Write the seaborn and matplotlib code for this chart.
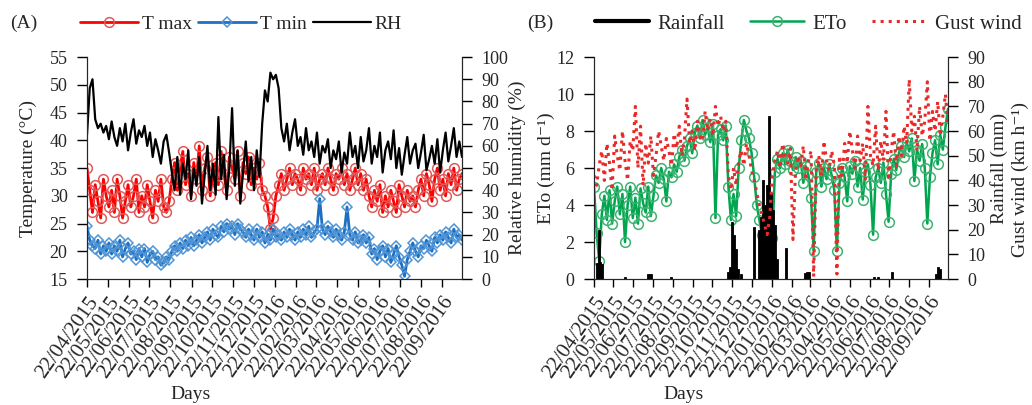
import numpy as np
import pandas as pd
import matplotlib
matplotlib.use('Agg')
import matplotlib.pyplot as plt
import matplotlib.dates as mdates
from matplotlib.lines import Line2D
import seaborn as sns

# Serie cada 4 dias desde 22/04/2015
tmax = [35, 31, 27, 32, 29, 26, 33, 30, 28, 31,
        27, 33, 30, 26, 29, 32, 28, 30, 33, 27,
        30, 28, 32, 29, 26, 31, 29, 33, 28, 27,
        29, 33, 36, 31, 35, 38, 32, 34, 30, 36,
        33, 39, 31, 35, 37, 30, 34, 36, 32, 38,
        34, 31, 37, 35, 33, 38, 30, 36, 34, 37,
        32, 35, 33, 36, 31, 30, 28, 24, 26, 30,
        32, 34, 31, 33, 35, 32, 34, 33, 31, 35,
        33, 34, 32, 35, 31, 33, 34, 32, 35, 33,
        31, 34, 33, 35, 32, 34, 31, 33, 35, 32,
        34, 31, 33, 30, 28, 31, 29, 32, 27, 30,
        28, 31, 29, 27, 32, 30, 28, 31, 29, 30,
        28, 31, 33, 30, 34, 32, 29, 33, 35, 31,
        33, 30, 34, 32, 35, 31, 33, 34]

tmin = [24.5, 22, 21, 20.5, 22, 19.5, 21, 20, 21.5, 19.5,
        21, 20, 22, 19, 20.5, 21.5, 19.5, 20, 18.5, 20.5,
        19, 20.5, 18, 19.5, 20, 18.5, 19, 17.5, 18, 19,
        18.5, 20, 21, 20, 21.5, 20.5, 22, 21, 22.5, 21,
        22, 23, 21.5, 22.5, 23.5, 22, 24, 23, 22.5, 24.5,
        23.5, 25, 24, 24.5, 23, 25, 24, 23.5, 22.5, 24,
        23, 22, 24, 22.5, 23.5, 21.5, 23, 22, 24, 22.5,
        23, 22, 23.5, 22.5, 24, 23, 22, 23.5, 22.5, 24,
        23, 24.5, 22.5, 23.5, 24, 29.5, 24, 23, 24.5, 23.5,
        22.5, 24, 23, 22, 23.5, 28, 23, 22, 23.5, 21.5,
        22, 23, 21.5, 22.5, 19.5, 20.5, 18.5, 20, 21, 19,
        20.5, 18, 19.5, 21, 19, 17.5, 15.5, 18.5, 20, 21.5,
        20, 19, 21, 20.5, 22, 21, 20, 22.5, 21.5, 23,
        22, 23.5, 22.5, 21.5, 24, 22.5, 23, 22]

rh = [65, 86, 90, 72, 68, 70, 66, 69, 63, 71,
      64, 60, 68, 62, 70, 58, 66, 72, 61, 67,
      64, 69, 60, 66, 55, 63, 58, 52, 62, 65,
      57, 48, 40, 55, 38, 52, 45, 58, 36, 50,
      42, 55, 34, 47, 60, 40, 52, 38, 73, 45,
      56, 36, 50, 77, 42, 58, 34, 48, 62, 44,
      55, 40, 58, 46, 70, 85, 80, 93, 90, 92,
      86, 68, 62, 70, 58, 66, 72, 60, 64, 56,
      68, 58, 62, 55, 66, 52, 60, 57, 63, 50,
      58, 54, 62, 48, 57, 52, 66, 55, 60, 50,
      64, 53, 58, 68, 52, 60, 55, 66, 48, 58,
      62, 54, 67, 50, 59, 47, 56, 64, 52, 58,
      61, 50, 57, 65, 49, 54, 60, 52, 63, 48,
      58, 66, 53, 60, 68, 55, 62, 55]

eto = [5.0, 2.5, 1.0, 3.5, 4.5, 3.2, 4.8, 3.0, 4.2, 5.0,
       3.5, 4.6, 2.0, 4.0, 5.0, 3.3, 4.4, 3.0, 4.9, 4.1,
       3.6, 5.0, 3.4, 4.5, 5.6, 5.2, 6.0, 5.4, 4.2, 5.8,
       5.5, 6.2, 5.8, 6.6, 7.0, 6.4, 7.2, 7.6, 6.8, 7.9,
       8.3, 7.6, 8.6, 7.8, 8.2, 7.4, 8.4, 3.3, 7.8, 8.1,
       7.5, 8.3, 5.0, 3.2, 4.6, 3.4, 6.0, 7.5, 8.6, 8.0,
       7.6, 6.8, 5.5, 4.0, 3.2, 2.4, 1.6, 0.8, 0.5, 2.2,
       5.8, 6.5, 6.0, 6.8, 6.2, 7.0, 6.4, 5.9, 6.6, 6.0,
       6.4, 5.2, 6.1, 5.6, 4.4, 1.5, 5.8, 6.3, 5.0, 6.0,
       5.4, 6.2, 5.6, 4.8, 1.5, 5.2, 6.0, 5.5, 4.2, 6.1,
       5.7, 6.4, 5.0, 6.0, 4.3, 5.8, 6.2, 5.1, 2.4, 5.5,
       6.0, 5.2, 6.3, 4.6, 3.1, 5.7, 6.5, 5.9, 6.8, 7.2,
       6.6, 7.4, 6.9, 7.6, 5.3, 7.0, 6.4, 7.3, 6.0, 3.0,
       5.5, 6.8, 7.5, 6.2, 7.8, 7.0, 8.2, 9.2]

gust = [42, 38, 46, 52, 40, 55, 47, 36, 58, 50,
        44, 60, 48, 40, 56, 52, 70, 45, 62, 38,
        55, 47, 58, 42, 50, 60, 54, 48, 57, 52,
        46, 59, 53, 62, 50, 57, 73, 55, 60, 52,
        64, 58, 56, 68, 60, 65, 58, 70, 62, 66,
        60, 64, 42, 36, 45, 38, 48, 52, 46, 55,
        50, 44, 40, 35, 30, 26, 22, 18, 25, 42,
        48, 52, 45, 55, 50, 47, 53, 16, 44, 50,
        46, 54, 40, 48, 52, 1, 45, 50, 42, 56,
        48, 44, 52, 46, 2, 50, 42, 55, 47, 60,
        52, 45, 58, 48, 55, 40, 70, 50, 46, 62,
        44, 56, 48, 68, 40, 52, 60, 46, 58, 50,
        62, 55, 81, 60, 66, 52, 70, 58, 64, 80,
        56, 68, 60, 72, 58, 66, 75, 62]

# Lluvia: solo dias con precipitacion
rain_dates = ['2015-04-27', '2015-04-30', '2015-05-02', '2015-05-04',
              '2015-06-09', '2015-07-14', '2015-07-17', '2015-07-20',
              '2015-08-19', '2015-11-16', '2015-11-19', '2015-11-22',
              '2015-11-25', '2015-11-28', '2015-12-01', '2015-12-06',
              '2015-12-26', '2016-01-03', '2016-01-06', '2016-01-09',
              '2016-01-12', '2016-01-15', '2016-01-18', '2016-01-21',
              '2016-01-24', '2016-01-27', '2016-01-30', '2016-02-13',
              '2016-03-13', '2016-03-17', '2016-03-20', '2016-06-29',
              '2016-07-05', '2016-07-27', '2016-10-02', '2016-10-05',
              '2016-10-08']
rain_mm = [6.5, 20, 7, 6,
           1, 2, 2, 2,
           1, 3, 5, 23,
           18, 12, 4, 2,
           21, 20, 25, 40,
           30, 38, 66, 35,
           28, 22, 8, 12.5,
           2.5, 3, 3, 1,
           1, 3, 2, 5,
           4]

fechas = pd.date_range('2015-04-22', periods=len(tmax), freq='4D')
fechas_lluvia = pd.to_datetime(rain_dates)

sns.set_style('ticks')
plt.rcParams['font.family'] = ['Liberation Serif', 'DejaVu Serif']
plt.rcParams['font.size'] = 12

fig = plt.figure(figsize=(10.32, 4.05), dpi=100)
axA = fig.add_axes([0.0843, 0.311, 0.3634, 0.548])
axB = fig.add_axes([0.5756, 0.311, 0.3430, 0.548])


def formato_eje_x(ax):
    ax.xaxis.set_major_locator(mdates.MonthLocator(bymonthday=22))
    ax.xaxis.set_major_formatter(mdates.DateFormatter('%d/%m/%Y'))
    ax.set_xlim(fechas[0], fechas[-1])
    plt.setp(ax.get_xticklabels(), rotation=55, ha='right',
             rotation_mode='anchor', fontsize=15)
    ax.tick_params(axis='x', direction='out', length=6, width=1, pad=4, color='black')


def formato_eje_y(ax):
    ax.spines['top'].set_visible(False)
    ax.tick_params(axis='y', direction='out', length=7, width=1, pad=7,
                   color='black', labelsize=13)


# ---------- Panel A ----------
sns.lineplot(x=fechas, y=tmax, ax=axA, color='red', lw=2.0, marker='o',
             markersize=7, markerfacecolor='none', markeredgecolor='#e05a5a',
             markeredgewidth=1.1, label='T max', legend=False)
sns.lineplot(x=fechas, y=tmin, ax=axA, color='#1f6fc0', lw=2.0, marker='D',
             markersize=5.5, markerfacecolor='none', markeredgecolor='#4f95d6',
             markeredgewidth=1.1, label='T min', legend=False)
axA.set_ylim(15, 55)
axA.set_yticks(range(15, 56, 5))
axA.set_ylabel('Temperature (°C)', fontsize=14, labelpad=9)
axA.set_xlabel('Days', fontsize=14)
axA.xaxis.set_label_coords(0.275, -0.48)

axA2 = axA.twinx()
sns.lineplot(x=fechas, y=rh, ax=axA2, color='black', lw=1.6, label='RH', legend=False)
axA2.set_ylim(0, 100)
axA2.set_yticks(range(0, 101, 10))
axA2.set_ylabel('Relative humidity (%)', fontsize=14, labelpad=0)

for a in (axA, axA2):
    formato_eje_y(a)
formato_eje_x(axA)

hA = [axA.lines[0], axA.lines[1], axA2.lines[0]]
axA2.legend(hA, ['T max', 'T min', 'RH'], loc='center left',
            bbox_to_anchor=(-0.04, 1.15), ncol=3, frameon=False,
            handlelength=3.0, handletextpad=0.2, columnspacing=0.3,
            fontsize=14, borderaxespad=0)
fig.text(10 / 1032, 1 - 23 / 405, '(A)', fontsize=14, va='center')

# ---------- Panel B ----------
sns.lineplot(x=fechas, y=eto, ax=axB, color='#00a550', lw=1.8, marker='o',
             markersize=7, markerfacecolor='none', markeredgecolor='#3cb371',
             markeredgewidth=1.1, label='ETo', legend=False)
axB.set_ylim(0, 12)
axB.set_yticks(range(0, 13, 2))
axB.set_ylabel('ETo (mm d⁻¹)', fontsize=14, labelpad=1)
axB.set_xlabel('Days', fontsize=14)
axB.xaxis.set_label_coords(0.254, -0.48)

axB2 = axB.twinx()
axB2.bar(fechas_lluvia, rain_mm, width=3, color='black', edgecolor='black',
         linewidth=0.6, label='Rainfall')
sns.lineplot(x=fechas, y=gust, ax=axB2, color='#e82a2a', lw=2.2, linestyle=':',
             label='Gust wind', legend=False)
axB2.set_ylim(0, 90)
axB2.set_yticks(range(0, 91, 10))
axB2.set_ylabel('Rainfall (mm)', fontsize=14, labelpad=3)
axB2.text(1.205, 0.45, 'Gust wind (km h⁻¹)', rotation=90, fontsize=14,
          ha='center', va='center', transform=axB2.transAxes)

for a in (axB, axB2):
    formato_eje_y(a)
formato_eje_x(axB)

hB = [Line2D([], [], color='black', lw=3),
      axB.lines[0],
      Line2D([], [], color='#e82a2a', lw=2.2, linestyle=':')]
axB2.legend(hB, ['Rainfall', 'ETo', 'Gust wind'], loc='center left',
            bbox_to_anchor=(-0.02, 1.15), ncol=3, frameon=False,
            handlelength=2.6, handletextpad=0.4, columnspacing=1.2,
            fontsize=15, borderaxespad=0)
fig.text(527 / 1032, 1 - 23 / 405, '(B)', fontsize=14, va='center')

fig.savefig('out.png', dpi=100)
